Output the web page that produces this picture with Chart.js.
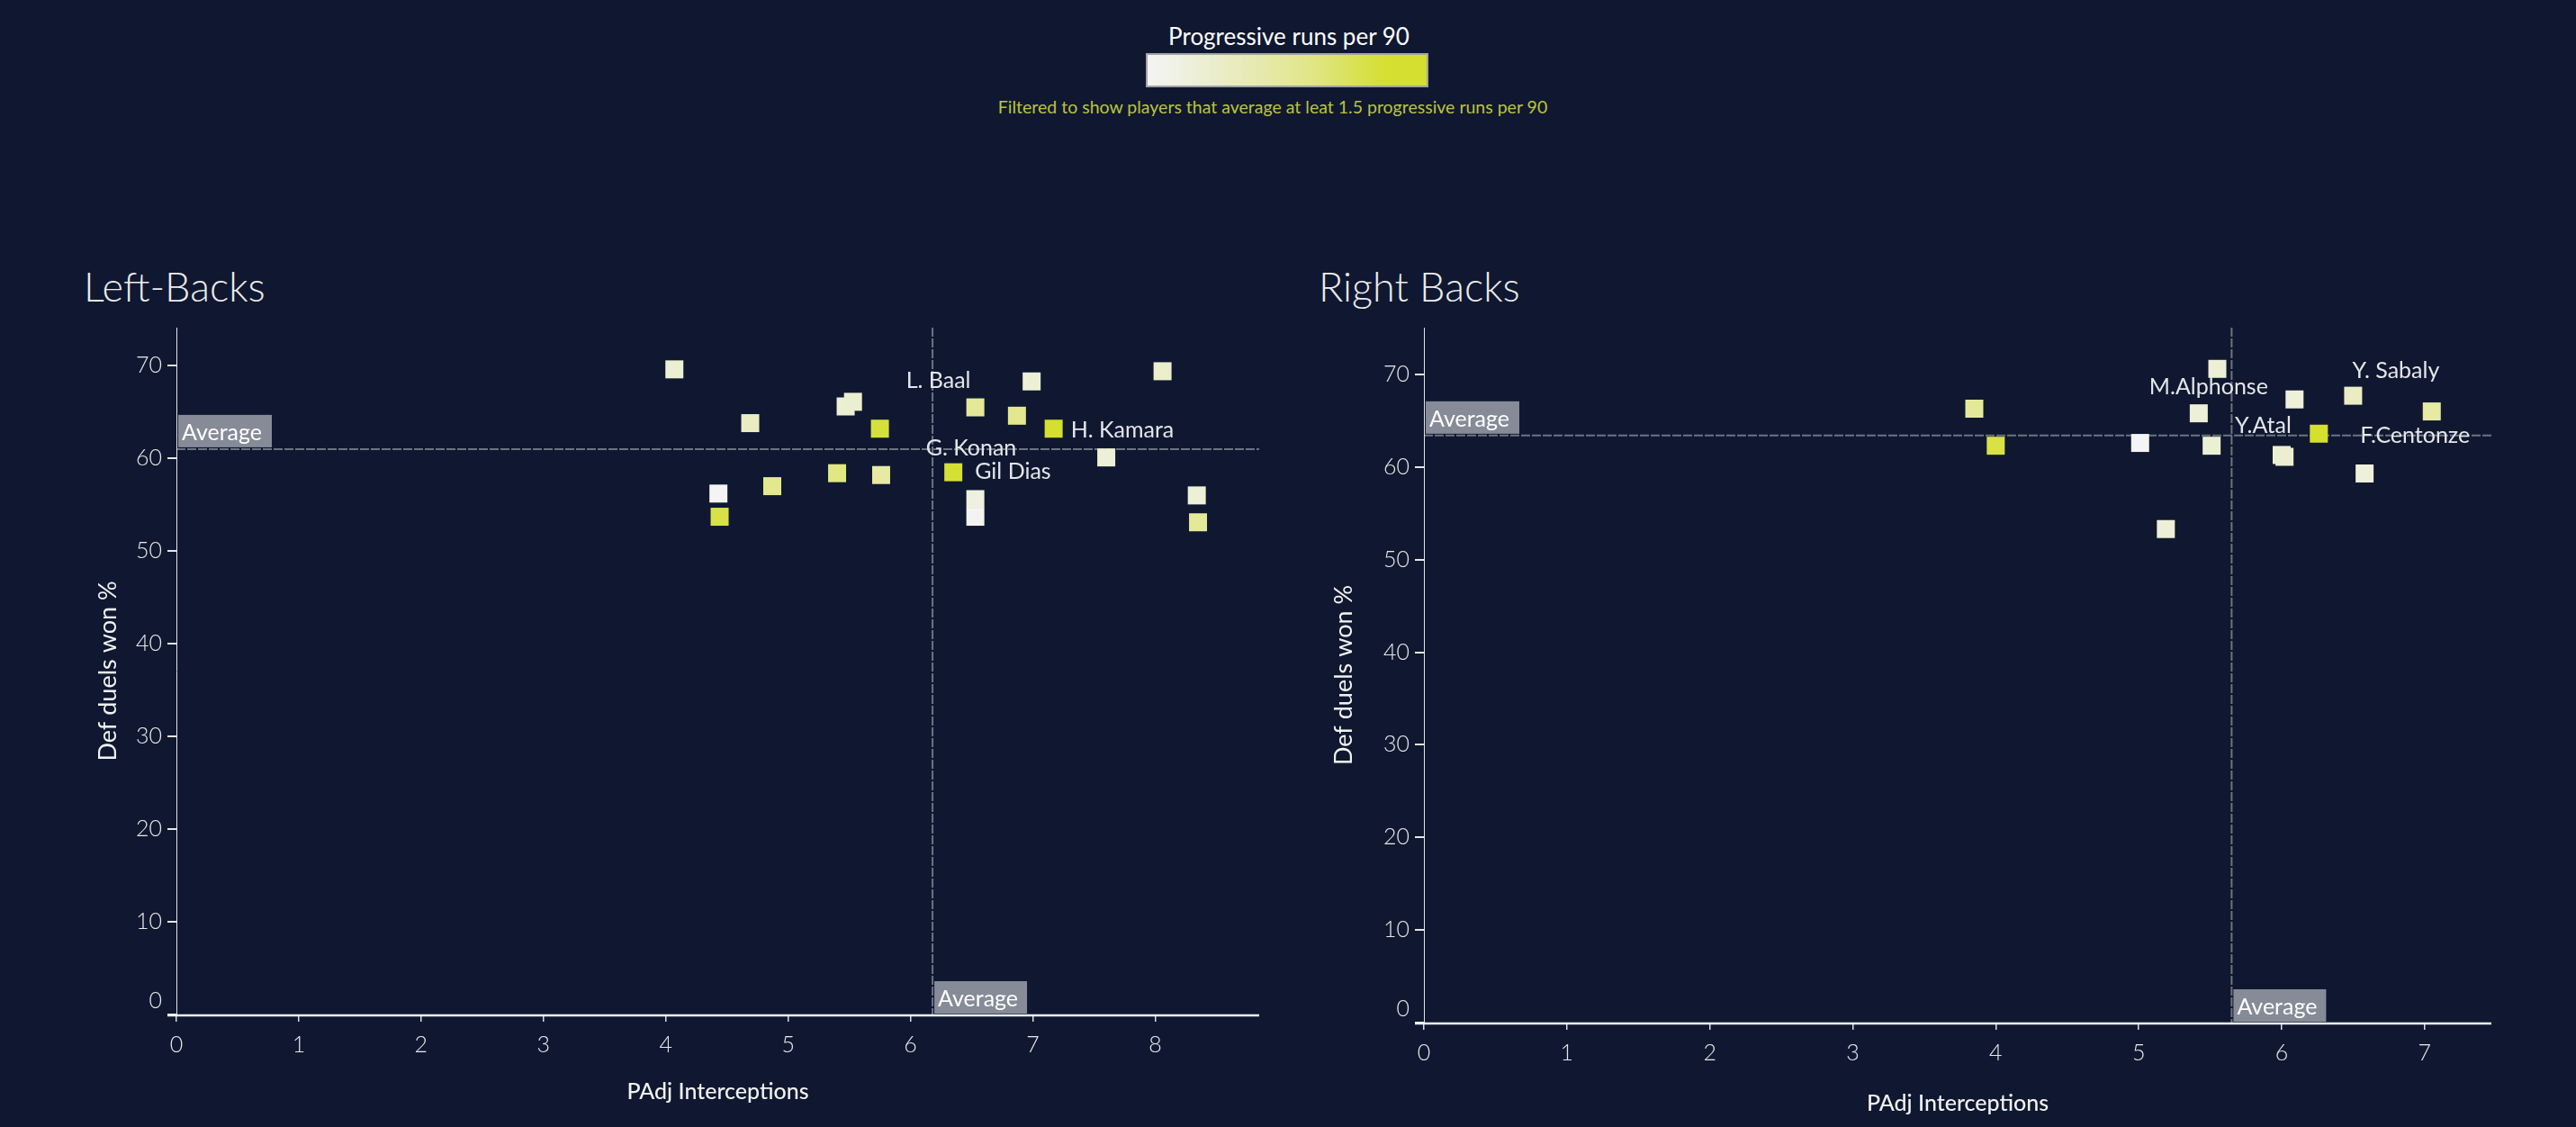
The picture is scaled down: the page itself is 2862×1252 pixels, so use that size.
<!DOCTYPE html>
<html>
<head>
<meta charset="utf-8">
<script src="https://cdn.jsdelivr.net/npm/chart.js@4.4.1/dist/chart.umd.min.js"></script>
<style>
html,body{margin:0;padding:0;background:#0f1830;width:2862px;height:1252px;overflow:hidden;font-family:Lato,'Open Sans',sans-serif;}
.abs{position:absolute;}
#legTitle{left:1132px;width:600px;top:24px;text-align:center;color:#ffffff;font-size:26px;line-height:32px;font-weight:400;}
#legBar{left:1273px;top:59px;width:310px;height:34px;border:2px solid #a3a3a3;
 background:linear-gradient(to right,#f4f4f4 0%,#f1f2e8 8%,#ebeecf 22%,#e6e9ab 42%,#e1e688 58%,#dbe263 70%,#d5df35 84%,#d4df2e 100%);}
#legSub{left:1014px;width:800px;top:107px;text-align:center;color:#bcc33c;font-size:19.5px;line-height:24px;}
.title{color:#ececec;font-size:45px;font-weight:300;line-height:52px;top:292px;}
</style>
</head>
<body>
<div id="legTitle" class="abs">Progressive runs per 90</div>
<div id="legBar" class="abs"></div>
<div id="legSub" class="abs">Filtered to show players that average at leat 1.5 progressive runs per 90</div>
<div class="abs title" style="left:93px;">Left-Backs</div>
<div class="abs title" style="left:1465px;">Right Backs</div>
<div class="abs" style="left:0;top:340px;width:1430px;height:912px;"><canvas id="cLeft" width="1430" height="912"></canvas></div>
<div class="abs" style="left:1430px;top:340px;width:1432px;height:912px;"><canvas id="cRight" width="1432" height="912"></canvas></div>
<script>
// ---------- DATA ----------
// Left-Backs: PAdj Interceptions (x), Def duels won % (y), progressive runs per 90 (colour)
const leftX    = [4.07, 4.69, 5.47, 5.53, 5.75, 6.53, 6.99, 6.87, 7.17, 8.06, 7.60, 6.35, 5.40, 5.76, 4.87, 4.43, 4.44, 6.53, 6.53, 8.34, 8.35];
const leftY    = [69.6, 63.8, 65.6, 66.1, 63.2, 65.5, 68.3, 64.6, 63.2, 69.4, 60.1, 58.5, 58.4, 58.2, 57.0, 56.2, 53.7, 55.6, 53.7, 56.0, 53.1];
const leftRuns = [2.0, 2.2, 2.0, 2.05, 3.4, 2.6, 1.95, 2.7, 3.5, 2.1, 1.95, 3.45, 2.8, 2.5, 2.7, 1.5, 3.3, 1.8, 1.55, 1.95, 2.6];
const leftNames= ["", "", "", "", "", "L. Baal", "", "", "H. Kamara", "", "", "Gil Dias", "", "", "", "", "", "G. Konan", "", "", ""];
const leftAvgX = 6.18;
const leftAvgY = 61.0;

// Right Backs
const rightX    = [3.85, 4.00, 5.01, 5.42, 5.55, 5.51, 6.09, 6.00, 6.02, 6.26, 6.50, 7.05, 6.58, 5.19];
const rightY    = [66.3, 62.3, 62.6, 65.8, 70.6, 62.3, 67.3, 61.3, 61.1, 63.6, 67.7, 66.0, 59.3, 53.3];
const rightRuns = [2.6, 3.3, 1.5, 1.95, 1.95, 2.0, 1.9, 2.0, 2.05, 3.5, 2.2, 2.5, 1.9, 1.95];
const rightNames= ["", "", "", "M.Alphonse", "", "", "", "Y.Atal", "", "F.Centonze", "Y. Sabaly", "", "", ""];
const rightAvgX = 5.65;
const rightAvgY = 63.4;

const yTicks      = [0, 10, 20, 30, 40, 50, 60, 70];
const leftXTicks  = [0, 1, 2, 3, 4, 5, 6, 7, 8];
const rightXTicks = [0, 1, 2, 3, 4, 5, 6, 7];

const xTitle = "PAdj Interceptions";
const yTitle = "Def duels won %";
const avgText = "Average";

// ---------- STYLE ----------
const FONT = "Lato, 'Open Sans', sans-serif";
const runsMin = 1.5, runsMax = 3.5;
const stops = [[0,[244,244,244]],[0.28,[235,239,207]],[0.6,[227,232,142]],[1,[212,223,46]]];
function runColor(v){
  const t = Math.max(0, Math.min(1, (v - runsMin) / (runsMax - runsMin)));
  for (let i = 1; i < stops.length; i++) {
    if (t <= stops[i][0]) {
      const [t0,c0] = stops[i-1], [t1,c1] = stops[i];
      const f = (t - t0) / (t1 - t0);
      const c = c0.map((a,k)=>Math.round(a + (c1[k]-a)*f));
      return `rgb(${c[0]},${c[1]},${c[2]})`;
    }
  }
  return 'rgb(212,223,46)';
}

const overlay = {
  id: 'overlay',
  beforeDatasetsDraw(chart, args, o) {
    const {ctx, chartArea: a, scales: {x, y}} = chart;
    const ax = x.getPixelForValue(o.avgX), ay = y.getPixelForValue(o.avgY);
    ctx.save();
    ctx.strokeStyle = '#6c7381'; ctx.lineWidth = 2; ctx.setLineDash([10, 2]);
    ctx.beginPath(); ctx.moveTo(a.left, ay); ctx.lineTo(a.right, ay); ctx.stroke();
    ctx.beginPath(); ctx.moveTo(ax, a.top); ctx.lineTo(ax, a.bottom); ctx.stroke();
    ctx.setLineDash([]);
    // axis lines
    ctx.strokeStyle = '#e6e6e6'; ctx.lineWidth = 1;
    ctx.beginPath(); ctx.moveTo(a.left + 0.5, a.top); ctx.lineTo(a.left + 0.5, a.bottom); ctx.stroke();
    ctx.strokeStyle = '#f2f2f2'; ctx.lineWidth = 2.5;
    ctx.beginPath(); ctx.moveTo(a.left - 10, a.bottom + 1); ctx.lineTo(a.right, a.bottom + 1); ctx.stroke();
    ctx.restore();
  },
  afterDatasetsDraw(chart, args, o) {
    const {ctx, chartArea: a, scales: {x, y}} = chart;
    const ax = x.getPixelForValue(o.avgX), ay = y.getPixelForValue(o.avgY);
    ctx.save();
    // average boxes
    ctx.font = `400 25px ${FONT}`;
    ctx.textBaseline = 'middle'; ctx.textAlign = 'left';
    ctx.fillStyle = '#868b97';
    ctx.fillRect(a.left + 2, ay - 38, 104, 36);
    ctx.fillRect(ax + 2, a.bottom - 37, 103, 36);
    ctx.fillStyle = '#ffffff';
    ctx.fillText(avgText, a.left + 6, ay - 18);
    ctx.fillText(avgText, ax + 6, a.bottom - 17);
    // point labels
    const meta = chart.getDatasetMeta(0);
    ctx.fillStyle = '#e4e6ea';
    ctx.font = `400 25px ${FONT}`;
    o.names.forEach((n, i) => {
      if (!n) return;
      const off = o.offsets[n] || [20, 0];
      const p = meta.data[i];
      ctx.fillText(n, p.x + off[0], p.y + off[1]);
    });
    // axis titles
    ctx.fillStyle = '#f2f2f2';
    ctx.textAlign = 'center';
    ctx.font = `500 25px ${FONT}`;
    ctx.fillText(xTitle, (a.left + a.right) / 2, a.bottom + o.xTitleDy);
    ctx.translate(a.left - o.yTitleDx, (a.top + a.bottom) / 2);
    ctx.rotate(-Math.PI / 2);
    ctx.font = `400 27px ${FONT}`;
    ctx.fillText(yTitle, 0, 0);
    ctx.restore();
  }
};

function makeChart(id, xs, ys, runs, names, xTicks, cfg) {
  return new Chart(document.getElementById(id), {
    type: 'scatter',
    data: {
      datasets: [{
        data: xs.map((v, i) => ({x: v, y: ys[i]})),
        pointStyle: 'rect',
        pointRadius: 14.14,
        pointHoverRadius: 14.14,
        pointBorderWidth: 0,
        pointBackgroundColor: runs.map(runColor)
      }]
    },
    options: {
      responsive: false,
      animation: false,
      events: [],
      layout: {padding: {top: 24, right: cfg.padRight, left: 0, bottom: 0}},
      plugins: {
        legend: {display: false},
        tooltip: {enabled: false},
        overlay: {avgX: cfg.avgX, avgY: cfg.avgY, names: names, offsets: cfg.offsets, xTitleDy: cfg.xTitleDy, yTitleDx: cfg.yTitleDx}
      },
      scales: {
        x: {
          type: 'linear', min: 0, max: cfg.xMax,
          afterBuildTicks: s => { s.ticks = xTicks.map(v => ({value: v})); },
          afterFit: s => { s.height = cfg.xAxisH; },
          border: {display: false},
          grid: {display: true, drawOnChartArea: false, drawTicks: true, tickLength: 8, color: '#dcdcdc', lineWidth: 1.5},
          ticks: {color: '#e8e8e8', font: {family: FONT, size: 25, weight: '300'}, padding: 11, maxRotation: 0, autoSkip: false}
        },
        y: {
          type: 'linear', min: 0, max: cfg.yMax,
          afterBuildTicks: s => { s.ticks = yTicks.map(v => ({value: v})); },
          afterFit: s => { s.width = cfg.yAxisW; },
          border: {display: false},
          grid: {display: true, drawOnChartArea: false, drawTicks: true, tickLength: 10, color: '#e6e6e6', lineWidth: 2},
          ticks: {color: '#e8e8e8', font: {family: FONT, size: 25, weight: '300'}, padding: 6,
                  callback: v => v === 0 ? ['0', ''] : String(v)}
        }
      }
    },
    plugins: [overlay]
  });
}

makeChart('cLeft', leftX, leftY, leftRuns, leftNames, leftXTicks, {
  avgX: leftAvgX, avgY: leftAvgY, xMax: 8.85, yMax: 74.1, padRight: 31, xAxisH: 125, yAxisW: 196,
  xTitleDy: 86, yTitleDx: 76,
  offsets: {"L. Baal": [-77, -30], "H. Kamara": [19, 2], "Gil Dias": [24, -1], "G. Konan": [-55, -57]}
});
makeChart('cRight', rightX, rightY, rightRuns, rightNames, rightXTicks, {
  avgX: rightAvgX, avgY: rightAvgY, xMax: 7.467, yMax: 75.05, padRight: 94, xAxisH: 116, yAxisW: 152,
  xTitleDy: 90, yTitleDx: 89,
  offsets: {"M.Alphonse": [-55, -29], "Y.Atal": [-52, -33], "F.Centonze": [46, 2], "Y. Sabaly": [-1, -28]}
});
</script>
</body>
</html>
